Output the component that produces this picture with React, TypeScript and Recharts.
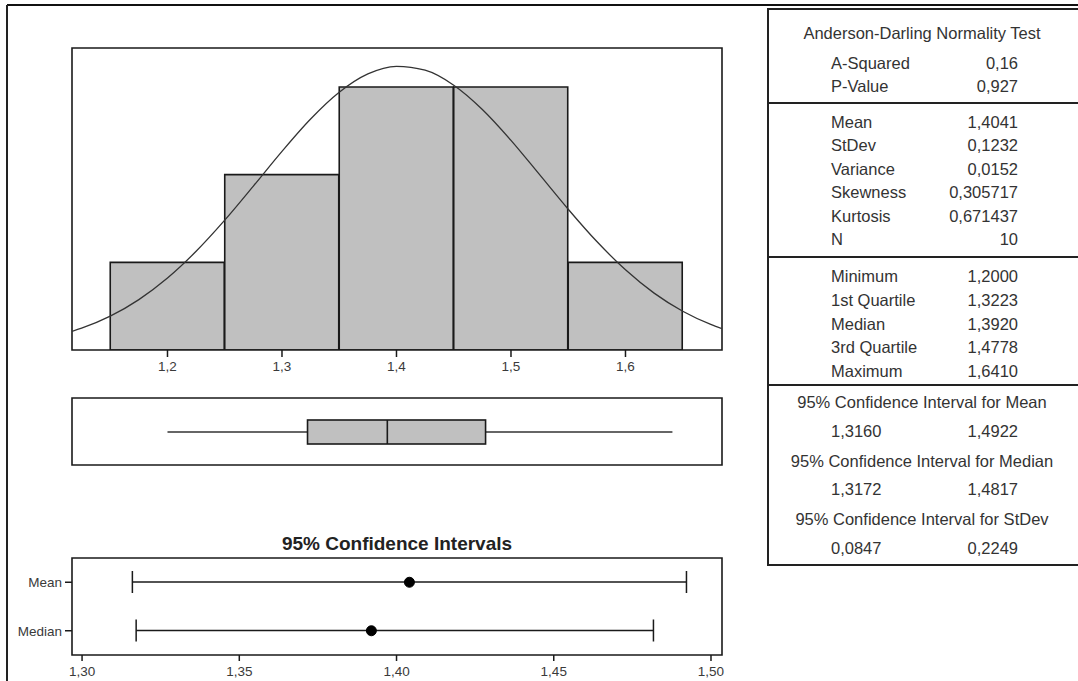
import React from 'react';
import { ComposedChart, LineChart, Bar, Line, XAxis, YAxis, ReferenceArea } from 'recharts';

// ---------- data ----------
const binCenters = [1.2, 1.3, 1.4, 1.5, 1.6];
const binCounts = [1, 2, 3, 3, 1];
const histTicks = [1.2, 1.3, 1.4, 1.5, 1.6];
const histDomain: [number, number] = [1.1166, 1.6843];
const histYMax = 3.445;

// fitted normal curve (in count units)
const curveX = [1.1166, 1.125, 1.15, 1.175, 1.2, 1.225, 1.25, 1.275, 1.3, 1.325, 1.35, 1.375, 1.4, 1.425, 1.45, 1.475, 1.5, 1.525, 1.55, 1.575, 1.6, 1.625, 1.65, 1.675, 1.6843];
const curveY = [0.213, 0.249, 0.386, 0.575, 0.821, 1.126, 1.481, 1.87, 2.266, 2.635, 2.94, 3.149, 3.236, 3.192, 3.021, 2.744, 2.392, 2.0, 1.606, 1.237, 0.915, 0.649, 0.442, 0.289, 0.244];

const quantLabels = ['Minimum', '1st Quartile', 'Median', '3rd Quartile', 'Maximum'];
const quantValues = [1.2, 1.3223, 1.392, 1.4778, 1.641];

const ciNames = ['Mean', 'Median'];
const ciEstimates = [1.4041, 1.392];
const ciLower = [1.316, 1.3172];
const ciUpper = [1.4922, 1.4817];
const ciTicks = [1.3, 1.35, 1.4, 1.45, 1.5];
const ciDomain: [number, number] = [1.2968, 1.5035];

const adTitle = 'Anderson-Darling Normality Test';
const adLabels = ['A-Squared', 'P-Value'];
const adValues = ['0,16', '0,927'];
const descLabels = ['Mean', 'StDev', 'Variance', 'Skewness', 'Kurtosis', 'N'];
const descValues = ['1,4041', '0,1232', '0,0152', '0,305717', '0,671437', '10'];
const intervalTitles = [
  '95% Confidence Interval for Mean',
  '95% Confidence Interval for Median',
  '95% Confidence Interval for StDev',
];
const intervalLow = ['1,3160', '1,3172', '0,0847'];
const intervalHigh = ['1,4922', '1,4817', '0,2249'];
const ciPanelTitle = '95% Confidence Intervals';

// ---------- helpers ----------
const fmt = (d: number) => (v: number) => v.toFixed(d).replace('.', ',');
const FONT = "'Liberation Sans', Arial, sans-serif";
const tickStyle = { fill: '#3a3a3a', fontSize: 13.5, fontFamily: FONT };
const LINE = '#1a1a1a';

const histData = binCenters.map((x, i) => ({ x, count: binCounts[i] }));
const curveData = curveX.map((x, i) => ({ x, y: curveY[i] }));
const boxData = [{
  name: 'box',
  min: quantValues[0], q1: quantValues[1], median: quantValues[2], q3: quantValues[3], max: quantValues[4],
  range: [quantValues[1], quantValues[3]],
}];
const ciData = ciNames.map((name, i) => ({ name, est: ciEstimates[i], range: [ciLower[i], ciUpper[i]] }));

const BoxShape = (props: any) => {
  const { x, y, width, height, payload } = props;
  const px = (v: number) => x + ((v - payload.q1) / (payload.q3 - payload.q1)) * width;
  const cy = y + height / 2;
  return (
    <g>
      <line x1={px(payload.min)} x2={x} y1={cy} y2={cy} stroke="#333" strokeWidth={1.6} />
      <line x1={x + width} x2={px(payload.max)} y1={cy} y2={cy} stroke="#333" strokeWidth={1.6} />
      <rect x={x} y={y} width={width} height={height} fill="#c0c0c0" stroke={LINE} strokeWidth={1.6} />
      <line x1={px(payload.median)} x2={px(payload.median)} y1={y} y2={y + height} stroke={LINE} strokeWidth={1.6} />
    </g>
  );
};

const CIShape = (props: any) => {
  const { x, y, width, height } = props;
  const cy = y + height / 2;
  return (
    <g stroke={LINE} strokeWidth={1.5}>
      <line x1={x} x2={x + width} y1={cy} y2={cy} />
      <line x1={x} x2={x} y1={y} y2={y + height} />
      <line x1={x + width} x2={x + width} y1={y} y2={y + height} />
    </g>
  );
};

const abs = (left: number, top: number): React.CSSProperties => ({ position: 'absolute', left, top });

function StatsTable() {
  const L = 831, R = 1018, C = 922;
  const tStyle = { fontFamily: FONT, fontSize: 16.5, fill: '#333' };
  const rows: React.ReactNode[] = [];
  rows.push(<text key="adt" x={C} y={33} textAnchor="middle" dominantBaseline="central" {...tStyle}>{adTitle}</text>);
  adLabels.forEach((l, i) => {
    const y = 63 + i * 23;
    rows.push(<text key={'adl' + i} x={L} y={y} dominantBaseline="central" {...tStyle}>{l}</text>);
    rows.push(<text key={'adv' + i} x={R} y={y} textAnchor="end" dominantBaseline="central" {...tStyle}>{adValues[i]}</text>);
  });
  descLabels.forEach((l, i) => {
    const y = 122 + i * 23.4;
    rows.push(<text key={'dl' + i} x={L} y={y} dominantBaseline="central" {...tStyle}>{l}</text>);
    rows.push(<text key={'dv' + i} x={R} y={y} textAnchor="end" dominantBaseline="central" {...tStyle}>{descValues[i]}</text>);
  });
  quantLabels.forEach((l, i) => {
    const y = 276 + i * 23.75;
    rows.push(<text key={'ql' + i} x={L} y={y} dominantBaseline="central" {...tStyle}>{l}</text>);
    rows.push(<text key={'qv' + i} x={R} y={y} textAnchor="end" dominantBaseline="central" {...tStyle}>{fmt(4)(quantValues[i])}</text>);
  });
  intervalTitles.forEach((t, i) => {
    const y = 402 + i * 58.5;
    rows.push(<text key={'it' + i} x={C} y={y} textAnchor="middle" dominantBaseline="central" {...tStyle}>{t}</text>);
    rows.push(<text key={'il' + i} x={L} y={y + 28.5} dominantBaseline="central" {...tStyle}>{intervalLow[i]}</text>);
    rows.push(<text key={'ih' + i} x={R} y={y + 28.5} textAnchor="end" dominantBaseline="central" {...tStyle}>{intervalHigh[i]}</text>);
  });
  return (
    <svg width={1078} height={681} style={{ position: 'absolute', left: 0, top: 0 }}>
      <line x1={7} x2={1078} y1={5} y2={5} stroke="#111" strokeWidth={2} />
      <line x1={7} x2={7} y1={5} y2={681} stroke="#222" strokeWidth={2} />
      <rect x={768} y={9} width={330} height={556} fill="none" stroke="#222" strokeWidth={2} />
      <line x1={768} x2={1078} y1={103} y2={103} stroke="#222" strokeWidth={2} />
      <line x1={768} x2={1078} y1={257} y2={257} stroke="#222" strokeWidth={2} />
      <line x1={768} x2={1078} y1={385} y2={385} stroke="#222" strokeWidth={2} />
      {rows}
      <text x={397} y={543} textAnchor="middle" dominantBaseline="central" fontFamily={FONT} fontWeight="bold" fontSize={19} fill="#222">{ciPanelTitle}</text>
    </svg>
  );
}

export default function App() {
  return (
    <div style={{ position: 'absolute', left: 0, top: 0, width: 1078, height: 681, background: '#fff', overflow: 'hidden' }}>
      <StatsTable />

      {/* Histogram */}
      <div style={abs(0, 0)}>
        <ComposedChart width={740} height={390} data={histData} margin={{ top: 48, left: 72, right: 18, bottom: 10 }} barCategoryGap={0} barGap={0}>
          <XAxis type="number" dataKey="x" domain={histDomain} allowDataOverflow ticks={histTicks} interval={0}
            tickFormatter={fmt(1)} axisLine={false} tickLine={{ stroke: LINE, strokeWidth: 1.5 }} tickSize={7} tickMargin={4}
            height={30} tick={tickStyle} />
          <YAxis hide domain={[0, histYMax]} allowDataOverflow />
          <Bar dataKey="count" fill="#c0c0c0" stroke={LINE} strokeWidth={1.6} isAnimationActive={false} />
        </ComposedChart>
      </div>
      {/* Normal curve + frame overlay */}
      <div style={abs(0, 0)}>
        <LineChart width={740} height={390} data={curveData} margin={{ top: 48, left: 72, right: 18, bottom: 40 }}>
          <XAxis hide type="number" dataKey="x" domain={histDomain} allowDataOverflow />
          <YAxis hide domain={[0, histYMax]} allowDataOverflow />
          <Line type="monotone" dataKey="y" stroke="#333" strokeWidth={1.3} dot={false} isAnimationActive={false} />
          <ReferenceArea x1={histDomain[0]} x2={histDomain[1]} fill="none" fillOpacity={0} stroke={LINE} strokeWidth={1.6} ifOverflow="visible" />
        </LineChart>
      </div>

      {/* Box plot */}
      <div style={abs(0, 390)}>
        <ComposedChart layout="vertical" width={740} height={80} data={boxData} margin={{ top: 8, left: 72, right: 18, bottom: 5 }}>
          <XAxis hide type="number" domain={histDomain} allowDataOverflow />
          <YAxis hide type="category" dataKey="name" />
          <Bar dataKey="range" barSize={24} shape={<BoxShape />} isAnimationActive={false} />
          <ReferenceArea x1={histDomain[0]} x2={histDomain[1]} fill="none" fillOpacity={0} stroke={LINE} strokeWidth={1.6} ifOverflow="visible" />
        </ComposedChart>
      </div>

      {/* Confidence intervals */}
      <div style={abs(0, 540)}>
        <ComposedChart layout="vertical" width={740} height={141} data={ciData} margin={{ top: 18, left: 12, right: 18, bottom: 2 }}>
          <XAxis type="number" domain={ciDomain} allowDataOverflow ticks={ciTicks} interval={0} tickFormatter={fmt(2)}
            axisLine={false} tickLine={{ stroke: LINE, strokeWidth: 1.5 }} tickSize={6} tickMargin={5} height={24} tick={tickStyle} />
          <YAxis type="category" dataKey="name" width={60} axisLine={false} tickLine={{ stroke: LINE, strokeWidth: 1.5 }}
            tickSize={7} tickMargin={3} tick={tickStyle} />
          <Bar dataKey="range" barSize={22} shape={<CIShape />} isAnimationActive={false} />
          <Line dataKey="est" stroke="none" dot={{ r: 5, fill: '#000', stroke: '#000', strokeWidth: 1 }} isAnimationActive={false} />
          <ReferenceArea x1={ciDomain[0]} x2={ciDomain[1]} fill="none" fillOpacity={0} stroke={LINE} strokeWidth={1.6} ifOverflow="visible" />
        </ComposedChart>
      </div>
    </div>
  );
}
